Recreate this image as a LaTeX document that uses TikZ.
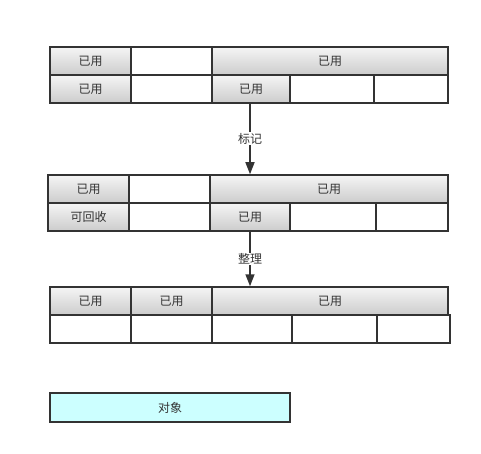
\documentclass[tikz,border=0pt]{standalone}
\usepackage{fontspec}
\setmainfont{Noto Sans CJK SC}
\usetikzlibrary{arrows.meta}
\definecolor{edge}{HTML}{333333}
\definecolor{legendfill}{HTML}{CCFFFF}
\tikzset{
  cellbox/.style={draw=edge, line width=1.5pt, minimum height=28pt, inner sep=0pt, text=edge,
    font=\fontsize{12}{14}\selectfont, anchor=center},
  usedbox/.style={cellbox, top color=white!96!black, bottom color=white!80!black},
  freebox/.style={cellbox, fill=white},
  legendbox/.style={cellbox, fill=legendfill, minimum height=29pt},
  flow/.style={draw=edge, line width=1.5pt, -{Triangle[length=12pt,width=9pt]}},
  flowlabel/.style={fill=white, text=edge, font=\fontsize{12}{14}\selectfont, inner sep=1pt}
}
\begin{document}
\begin{tikzpicture}[x=1pt,y=-1pt]
\useasboundingbox (0,0) rectangle (481,454);
% block 1
\node[usedbox, minimum width=81pt] (a11) at (90.5,61) {已用};
\node[freebox, minimum width=81pt] (a12) at (171.5,61) {};
\node[usedbox, minimum width=236pt] (a13) at (330,61) {已用};
\node[usedbox, minimum width=81pt] (a21) at (90.5,89) {已用};
\node[freebox, minimum width=81pt] (a22) at (171.5,89) {};
\node[usedbox, minimum width=78pt] (a23) at (251,89) {已用};
\node[freebox, minimum width=84pt] (a24) at (332,89) {};
\node[freebox, minimum width=74pt] (a25) at (411,89) {};
\coordinate (m1) at (250,103);
% block 2
\node[usedbox, minimum width=81pt] (b11) at (88.5,189) {已用};
\node[freebox, minimum width=81pt] (b12) at (169.5,189) {};
\node[usedbox, minimum width=238pt] (b13) at (329,189) {已用};
\node[usedbox, minimum width=81pt] (b21) at (88.5,217) {可回收};
\node[freebox, minimum width=81pt] (b22) at (169.5,217) {};
\node[usedbox, minimum width=80pt] (b23) at (250,217) {已用};
\node[freebox, minimum width=86pt] (b24) at (333,217) {};
\node[freebox, minimum width=72pt] (b25) at (412,217) {};
% block 3
\node[usedbox, minimum width=81pt] (c11) at (90.5,301) {已用};
\node[usedbox, minimum width=81pt] (c12) at (171.5,301) {已用};
\node[usedbox, minimum width=236pt] (c13) at (330,301) {已用};
\node[freebox, minimum width=81pt] (c21) at (90.5,329) {};
\node[freebox, minimum width=81pt] (c22) at (171.5,329) {};
\node[freebox, minimum width=80pt] (c23) at (252,329) {};
\node[freebox, minimum width=85pt] (c24) at (334.5,329) {};
\node[freebox, minimum width=73pt] (c25) at (413.5,329) {};
% legend
\node[legendbox, minimum width=240pt] (leg) at (170,407.5) {对象};
% arrows
\draw[flow] (m1) -- node[flowlabel] {标记} (m1 |- b13.north);
\draw[flow] (b23.south) -- node[flowlabel] {整理} (b23.south |- c13.north);
\end{tikzpicture}
\end{document}
